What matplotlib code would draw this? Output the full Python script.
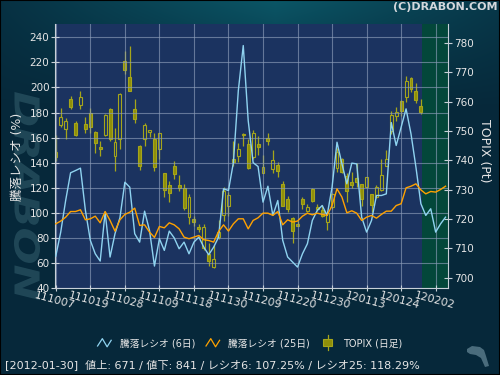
import numpy as np
import matplotlib
matplotlib.use('Agg')
import matplotlib.pyplot as plt
from matplotlib.lines import Line2D
from matplotlib.patches import Rectangle, Polygon, PathPatch
from matplotlib.legend_handler import HandlerBase
from matplotlib.textpath import TextPath
from matplotlib.font_manager import FontProperties
from matplotlib.transforms import Affine2D

# x tick labels, one every 7 trading days
tick_labels = ['111007', '111019', '111028', '111109', '111118', '111130',
               '111209', '111220', '111230', '120113', '120124', '120202']

# TOPIX daily candles (2011-10-07 .. 2012-01-30)
topix_open = [743.0, 752.2, 750.6, 760.8, 752.7, 759.0, 752.4, 756.0, 749.7, 744.5,
              748.8, 757.5, 741.6, 747.3, 773.8, 768.5, 757.4, 744.9, 747.2, 749.6,
              747.3, 743.8, 735.6, 731.5, 738.0, 731.5, 730.6, 720.6, 720.0, 717.2,
              710.1, 708.1, 703.6, 713.8, 721.5, 724.5, 740.5, 741.6, 749.1, 745.6,
              741.0, 745.6, 735.8, 747.5, 737.2, 738.4, 731.8, 726.8, 720.2, 718.4,
              726.8, 722.8, 730.2, 724.2, 723.1, 718.9, 724.2, 737.3, 740.5, 734.8,
              732.8, 733.9, 731.9, 731.1, 728.5, 727.6, 730.0, 738.2, 750.1, 755.0,
              760.1, 761.5, 768.1, 763.5, 758.5]
topix_high = [748.6, 757.8, 754.4, 761.9, 753.5, 763.5, 754.7, 757.8, 749.9, 746.7,
              755.8, 757.8, 751.0, 763.0, 777.2, 779.0, 760.9, 745.2, 752.8, 750.4,
              749.5, 749.5, 735.8, 733.1, 739.8, 735.0, 731.9, 728.5, 721.1, 718.3,
              718.3, 711.7, 711.3, 719.7, 730.8, 729.1, 746.5, 746.1, 749.5, 747.3,
              750.3, 748.3, 741.8, 749.3, 743.5, 739.5, 733.0, 727.7, 720.8, 719.2,
              727.6, 725.1, 730.5, 725.1, 724.7, 722.8, 728.8, 744.1, 740.7, 735.7,
              735.9, 739.0, 732.0, 734.5, 728.7, 731.5, 740.5, 743.5, 756.7, 758.1,
              760.6, 768.9, 768.4, 766.3, 760.9]
topix_low = [739.9, 751.5, 747.2, 757.6, 748.3, 757.6, 749.2, 749.2, 742.4, 741.6,
             748.4, 746.7, 736.3, 743.9, 769.4, 763.5, 752.8, 736.8, 745.0, 747.9,
             736.5, 740.5, 727.4, 725.9, 733.6, 729.7, 723.1, 718.3, 717.5, 715.5,
             709.5, 704.1, 703.2, 713.2, 719.4, 720.9, 738.2, 739.3, 745.0, 737.2,
             740.5, 741.9, 735.6, 745.3, 735.8, 734.4, 724.3, 722.5, 712.0, 717.5,
             723.6, 722.5, 725.7, 722.8, 720.6, 716.3, 723.4, 735.9, 735.7, 725.7,
             730.6, 730.8, 724.5, 730.8, 722.3, 727.3, 729.7, 738.0, 749.0, 753.5,
             755.2, 759.8, 763.2, 759.6, 755.8]
topix_close = [741.3, 754.7, 753.3, 758.3, 748.5, 761.5, 750.8, 751.3, 745.8, 744.0,
               755.5, 747.2, 746.3, 762.6, 770.9, 763.8, 754.2, 738.2, 751.9, 750.3,
               737.8, 749.2, 730.0, 728.8, 735.3, 730.6, 723.8, 727.4, 719.1, 716.5,
               717.4, 705.8, 706.3, 715.6, 729.4, 728.1, 739.4, 743.9, 748.5, 737.4,
               749.5, 744.7, 737.8, 746.5, 740.3, 736.5, 724.5, 723.3, 716.0, 717.7,
               725.3, 724.2, 726.3, 723.6, 720.9, 721.9, 728.5, 743.0, 735.9, 729.4,
               731.6, 732.8, 726.8, 734.2, 724.8, 731.1, 735.0, 740.5, 755.5, 756.4,
               756.7, 767.2, 764.3, 760.7, 756.6]

# advance/decline ratio (%)
ratio6 = [65.5, 84.6, 109.8, 131.9, 133.7, 135.6, 102.0, 78.0, 67.3, 61.5,
          100.5, 64.7, 83.3, 96.0, 124.4, 120.4, 83.3, 76.6, 101.3, 85.9,
          57.5, 79.3, 70.0, 85.4, 80.0, 71.3, 76.6, 67.3, 76.6, 80.6,
          72.6, 66.5, 72.6, 80.6, 119.1, 117.8, 140.0, 197.5, 233.4, 173.6,
          140.0, 136.9, 108.5, 121.2, 97.9, 109.8, 78.0, 64.7, 60.7, 56.7,
          67.3, 75.3, 93.9, 101.9, 105.8, 97.9, 120.4, 156.3, 139.0, 123.1,
          139.6, 139.0, 96.5, 84.6, 93.9, 113.8, 113.8, 115.1, 172.0, 153.7,
          168.3, 182.9, 163.0, 136.4, 107.25, 97.9, 103.2, 84.6, 91.2, 96.5]
ratio25 = [91.2, 93.4, 96.5, 101.0, 101.0, 102.4, 94.4, 95.2, 97.3, 92.0,
           101.0, 93.9, 85.4, 94.4, 98.7, 100.5, 103.7, 89.9, 90.4, 84.6,
           80.3, 89.1, 88.0, 92.0, 90.4, 87.2, 80.6, 79.3, 80.6, 81.9,
           78.5, 77.9, 76.6, 85.1, 90.4, 85.4, 91.2, 95.2, 95.2, 87.2,
           93.9, 96.0, 99.7, 99.7, 97.9, 101.0, 90.4, 94.4, 92.6, 93.4,
           97.3, 99.7, 98.4, 99.7, 98.7, 97.9, 105.8, 119.1, 112.5, 100.0,
           101.6, 99.7, 93.9, 96.5, 97.9, 95.7, 98.7, 101.3, 101.3, 105.8,
           107.2, 119.9, 121.2, 123.1, 118.29, 115.1, 117.0, 116.5, 118.6, 121.2]

footer = '[2012-01-30]  値上: 671 / 値下: 841 / レシオ6: 107.25% / レシオ25: 118.29%'

plt.rcParams['font.family'] = ['DejaVu Sans', 'Noto Sans CJK JP']

NAVY = '#1b3360'
GREEN = '#03473a'
GRID = '#8c9cb8'
SPINE = '#c8d0d8'
TXT = '#e6e6e6'
BLUE = '#8fd3f0'
ORANGE = '#ffa200'
CANDLE_EDGE = '#a5a51a'
CANDLE_FILL = '#8f8f0a'

fig = plt.figure(figsize=(5, 3.75), dpi=100)

# background gradient (teal glow on top, dark blue elsewhere)
bg = fig.add_axes([0, 0, 1, 1], zorder=-5)
H, W = 375, 500
yy, xx = np.mgrid[0:H, 0:W]
w = np.clip(1 - yy / 110.0, 0, 1) * np.clip(1 - 0.8 * np.abs(xx / W - 0.55) / 0.55, 0, 1)
c0 = np.array([6, 40, 58]) / 255.0
c1 = np.array([11, 86, 102]) / 255.0
img = c0[None, None, :] * (1 - w[..., None]) + c1[None, None, :] * w[..., None]
bg.imshow(img, aspect='auto', extent=[0, 1, 0, 1])
bg.set_axis_off()

ax = fig.add_axes([0.11, 0.232, 0.785, 0.704])
ax2 = ax.twinx()
ax2.set_zorder(1)
ax.set_zorder(2)
ax.patch.set_visible(False)
ax2.patch.set_visible(True)
ax2.patch.set_facecolor(NAVY)

# future zone
ax2.axvspan(74.2, 79.6, color=GREEN, zorder=0, lw=0)

# candles
xc = np.arange(len(topix_open))
o = np.array(topix_open)
c = np.array(topix_close)
ax2.vlines(xc, topix_low, topix_high, color=CANDLE_EDGE, lw=0.9, zorder=3)
faces = [CANDLE_FILL if cl < op else NAVY for op, cl in zip(o, c)]
ax2.bar(xc, np.maximum(np.abs(c - o), 0.3), bottom=np.minimum(o, c), width=0.6,
        color=faces, edgecolor=CANDLE_EDGE, lw=0.8, zorder=4)

# ratio lines
xl = np.arange(len(ratio6))
ax.plot(xl, ratio6, color=BLUE, lw=1.0, zorder=5)
ax.plot(xl, ratio25, color=ORANGE, lw=1.0, zorder=5)

ax.set_xlim(-0.16, 79.4)
ax.set_ylim(40, 250.6)
ax2.set_ylim(696.5, 786.5)
ax.set_yticks(range(40, 241, 20))
ax2.set_yticks(range(700, 781, 10))
ax.set_xticks(range(0, 7 * len(tick_labels), 7))
ax.set_xticklabels(tick_labels, rotation=-15, ha='center', rotation_mode='anchor')

ax.grid(True, color=GRID, lw=0.8, alpha=0.65, zorder=1)

for a in (ax, ax2):
    a.spines['top'].set_visible(False)
    for s in ('left', 'right', 'bottom'):
        a.spines[s].set_color(SPINE)
ax.spines['right'].set_visible(False)
ax2.spines['left'].set_visible(False)
ax2.spines['bottom'].set_visible(False)

ax.tick_params(axis='y', direction='inout', length=6, colors=SPINE, labelcolor=TXT,
               labelsize=7.5, pad=1)
ax.tick_params(axis='x', direction='inout', length=5, colors=SPINE, labelcolor=TXT,
               labelsize=7.8, pad=3)
ax2.tick_params(axis='y', direction='inout', length=6, colors=SPINE, labelcolor=TXT,
                labelsize=7.5, pad=2)

# axis titles and header
fig.text(0.034, 0.581, '騰落レシオ (%)', rotation=90, ha='center', va='center',
         fontsize=9, color=TXT)
fig.text(0.97, 0.597, 'TOPIX (Pt)', rotation=-90, ha='center', va='center',
         fontsize=9, color=TXT)
fig.text(0.994, 0.981, '(C)DRABON.COM', ha='right', va='center', fontsize=8,
         fontweight='bold', color='#d4d8dc')

# watermark on the left margin
tp = TextPath((0, 0), 'DRABON', size=1,
              prop=FontProperties(family='DejaVu Sans', weight='bold', style='italic'))
ext = tp.get_extents()
wm_tr = (Affine2D().translate(-ext.x0, -ext.y0).scale(208 / ext.width, 26 / ext.height)
         .rotate_deg(-90).translate(14, 283).scale(1 / W, 1 / H) + fig.transFigure)
fig.patches.append(PathPatch(tp, transform=wm_tr, facecolor='#2a5463', edgecolor='none',
                             alpha=0.7, zorder=-1))


# legend
class ZigzagHandler(HandlerBase):
    def create_artists(self, legend, orig_handle, xdescent, ydescent, width, height,
                       fontsize, trans):
        fx = np.array([0.0, 0.35, 0.7, 1.0])
        fy = np.array([0.1, 1.0, 0.0, 0.8])
        ln = Line2D(fx * width - xdescent, fy * height * 1.2 - ydescent - 0.1 * height,
                    color=orig_handle.get_color(), lw=0.9, transform=trans)
        return [ln]


class CandleHandler(HandlerBase):
    def create_artists(self, legend, orig_handle, xdescent, ydescent, width, height,
                       fontsize, trans):
        cx = width / 2 - xdescent
        wick = Line2D([cx, cx], [-0.6 * height - ydescent, 1.6 * height - ydescent],
                      color=CANDLE_EDGE, lw=0.9, transform=trans)
        body = Rectangle((cx - 3, -0.05 * height - ydescent), 6, 1.1 * height,
                         facecolor=CANDLE_FILL, edgecolor=CANDLE_EDGE, lw=0.8,
                         transform=trans)
        return [wick, body]


h_blue = Line2D([], [], color=BLUE)
h_orange = Line2D([], [], color=ORANGE)
h_candle = Rectangle((0, 0), 1, 1)
leg = fig.legend([h_blue, h_orange, h_candle],
                 ['騰落レシオ (6日)', '騰落レシオ (25日)', 'TOPIX (日足)'],
                 handler_map={Line2D: ZigzagHandler(), Rectangle: CandleHandler()},
                 loc='center', bbox_to_anchor=(0.5, 0.085), ncol=3, frameon=False,
                 fontsize=7, handlelength=1.4, handletextpad=0.9, columnspacing=1.1)
for t in leg.get_texts():
    t.set_color(TXT)

fig.text(0.01, 0.029, footer, ha='left', va='center', fontsize=8, color=TXT)

# small mascot mark bottom right
pts = [(467, 349), (472, 346), (480, 347), (484, 350), (486, 356), (489, 366),
       (485, 367), (481, 358), (476, 355), (470, 354), (467, 352)]
fig.patches.append(Polygon([(px / W, 1 - py / H) for px, py in pts], closed=True,
                           transform=fig.transFigure, facecolor='#4a6c7c',
                           edgecolor='none'))

# thin dark frame
fig.patches.append(Rectangle((0, 0), 1, 1, transform=fig.transFigure, fill=False,
                             edgecolor='#000000', lw=1.5))

fig.savefig('out.png', dpi=100)
